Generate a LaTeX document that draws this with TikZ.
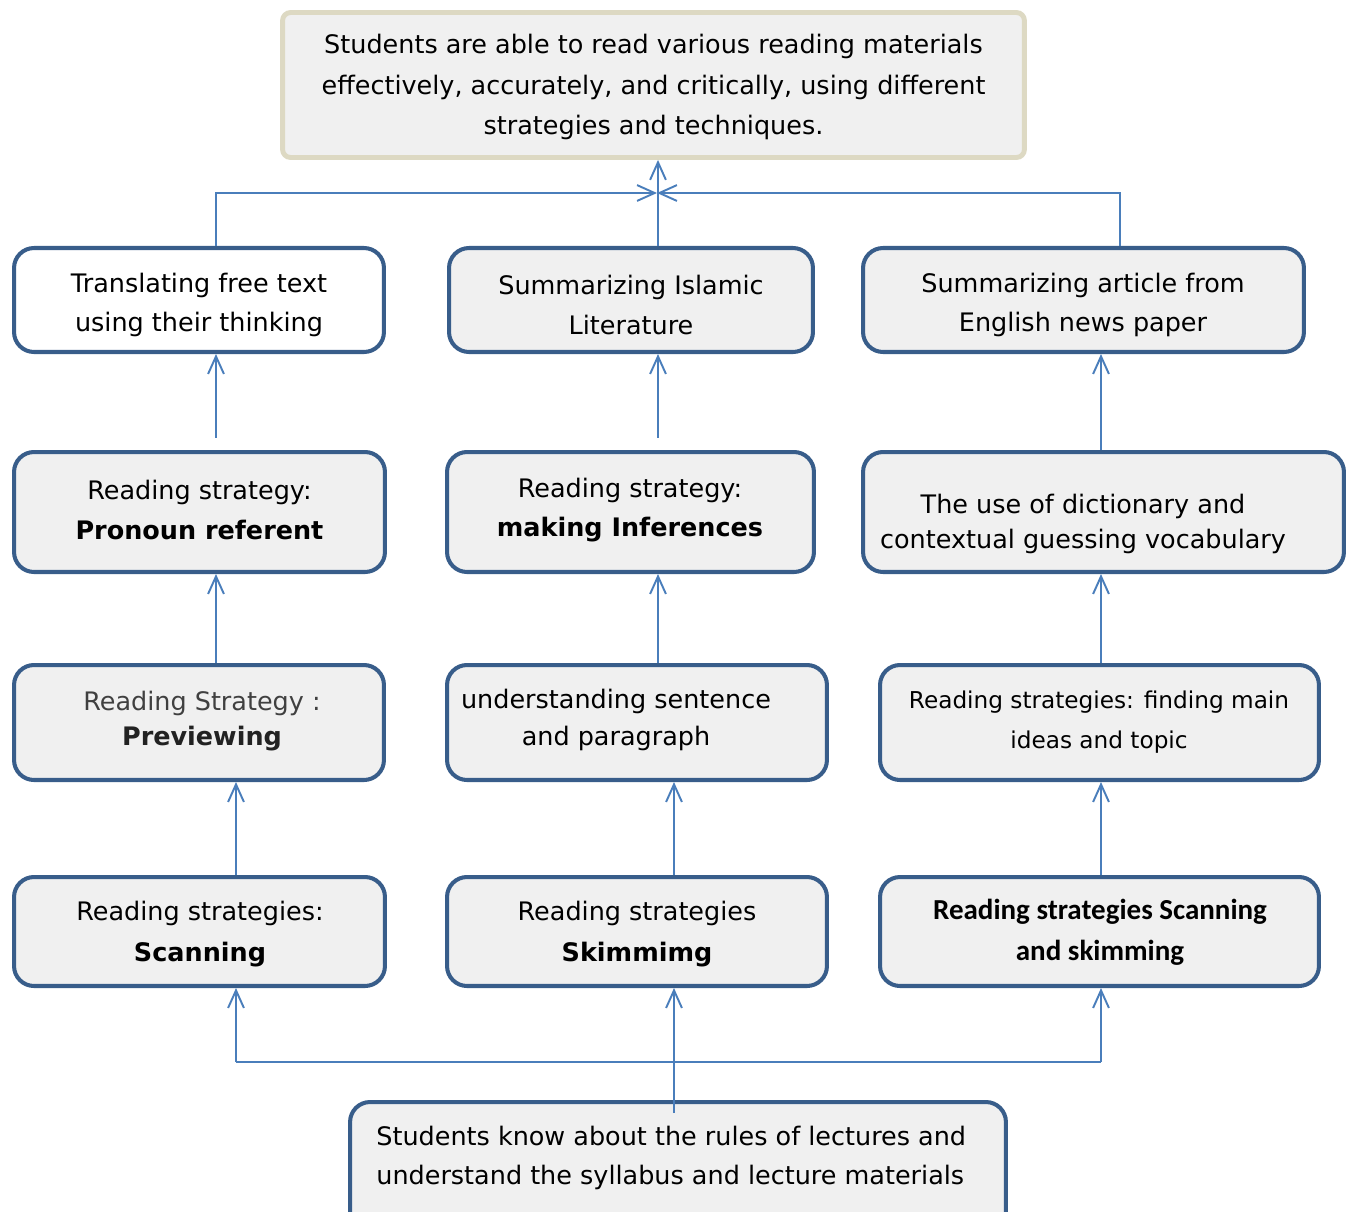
\documentclass[tikz,border=0pt]{standalone}
\usepackage{fontspec}
\setmainfont{DejaVu Sans}
\newfontfamily\calib{Carlito}
\usetikzlibrary{arrows.meta}
\definecolor{boxblue}{HTML}{385D8A}
\definecolor{lineblue}{HTML}{4A7EBB}
\definecolor{boxfill}{HTML}{F0F0F0}
\definecolor{topborder}{HTML}{DDD9C3}
\begin{document}
\begin{tikzpicture}[x=0.02cm,y=-0.02cm,
  bbox/.style={draw=boxblue, line width=2.3pt, rounded corners=0.4cm, fill=boxfill, inner sep=0pt},
  wbox/.style={bbox, fill=white},
  topbox/.style={draw=topborder, line width=2.8pt, rounded corners=0.16cm, fill=boxfill, inner sep=0pt},
  txt/.style={align=center, inner sep=0pt, font=\fontsize{14.5}{22.3}\selectfont},
  txtb/.style={align=center, inner sep=0pt, font=\fontsize{14.5}{23.2}\selectfont},
  conn/.style={draw=lineblue, line width=1.1pt},
  arr/.style={conn, -{Straight Barb[length=10pt,width=9pt]}}]
\clip (0,0) rectangle (1353,1211);
% boxes
\node[topbox, minimum width=14.84cm, minimum height=2.9cm] (T) at (653.5,85) {};
\node[wbox, minimum width=7.4cm, minimum height=2.08cm] (A1) at (199,300) {};
\node[bbox, minimum width=7.28cm, minimum height=2.08cm] (B1) at (631,300) {};
\node[bbox, minimum width=8.82cm, minimum height=2.08cm] (C1) at (1083.5,300) {};
\node[bbox, minimum width=7.42cm, minimum height=2.4cm] (A2) at (199.5,512) {};
\node[bbox, minimum width=7.34cm, minimum height=2.4cm] (B2) at (630.5,512) {};
\node[bbox, minimum width=9.62cm, minimum height=2.4cm] (C2) at (1103.5,512) {};
\node[bbox, minimum width=7.4cm, minimum height=2.3cm] (A3) at (199,722.5) {};
\node[bbox, minimum width=7.6cm, minimum height=2.3cm] (B3) at (637,722.5) {};
\node[bbox, minimum width=8.78cm, minimum height=2.3cm] (C3) at (1099.5,722.5) {};
\node[bbox, minimum width=7.42cm, minimum height=2.18cm] (A4) at (199.5,931.5) {};
\node[bbox, minimum width=7.6cm, minimum height=2.18cm] (B4) at (637,931.5) {};
\node[bbox, minimum width=8.78cm, minimum height=2.18cm] (C4) at (1099.5,931.5) {};
\node[bbox, minimum width=13.12cm, minimum height=2.6cm] (Bot) at (678,1167) {};
% texts
\node[txt, font=\fontsize{14.5}{23}\selectfont] (Tt) at (653.5,87) {Students are able to read various reading materials\\effectively, accurately, and critically, using different\\strategies and techniques.};
\node[txt] (A1t) at (199,305) {Translating free text\\using their thinking};
\node[txt] (B1t) at (631,305) {Summarizing Islamic\\Literature};
\node[txt] (C1t) at (1083,305) {Summarizing article from\\English news paper};
\node[txt] (A2t) at (199.5,510) {Reading strategy:\\\textbf{Pronoun referent}};
\node[txt] (B2t) at (630,510) {Reading strategy:\\\textbf{making Inferences}};
\node[txt, font=\fontsize{14.5}{20}\selectfont] (C2t) at (1083,524) {The use of dictionary and\\contextual guessing vocabulary};
\node[txt, font=\fontsize{14.5}{20}\selectfont] (A3t) at (202,721) {\textcolor[HTML]{404040}{Reading Strategy :}\\\textcolor[HTML]{222222}{\textbf{Previewing}}};
\node[txt, font=\fontsize{14.5}{21}\selectfont] (B3t) at (616,720) {understanding sentence\\and paragraph};
\node[txt, font=\fontsize{13.2}{23.2}\selectfont] (C3t) at (1099,722) {Reading strategies: finding main\\ideas and topic};
\node[txtb] (A4t) at (200,934) {Reading strategies:\\\textbf{Scanning}};
\node[txtb] (B4t) at (637,934) {Reading strategies\\\textbf{Skimmimg}};
\node[txtb, font=\calib\bfseries\fontsize{16.5}{23.2}\selectfont] (C4t) at (1100,932) {Reading strategies Scanning\\and skimming};
\node[txt, align=left, anchor=west, font=\fontsize{14.5}{22.7}\selectfont] (Bott) at (376,1158) {Students know about the rules of lectures and\\understand the syllabus and lecture materials};
% column coordinates
\coordinate (xa) at (216,0);
\coordinate (xa4) at (236,0);
\coordinate (xb) at (658,0);
\coordinate (xb4) at (674,0);
\coordinate (xc) at (1101,0);
\coordinate (xct) at (1120,0);
\coordinate (jn) at (657,193);
\coordinate (bl) at (236,1062);
\coordinate (br) at (1101,1062);
% top connectors
\draw[arr] (A1.north -| xa) |- (jn);
\draw[arr] (C1.north -| xct) |- (jn);
\draw[arr] (B1.north -| xb) -- (T.south -| xb);
% row connectors
\draw[arr, shorten <=7pt] (A2.north -| xa) -- (A1.south -| xa);
\draw[arr, shorten <=7pt] (B2.north -| xb) -- (B1.south -| xb);
\draw[arr] (C2.north -| xc) -- (C1.south -| xc);
\draw[arr] (A3.north -| xa) -- (A2.south -| xa);
\draw[arr] (B3.north -| xb) -- (B2.south -| xb);
\draw[arr] (C3.north -| xc) -- (C2.south -| xc);
\draw[arr] (A4.north -| xa4) -- (A3.south -| xa4);
\draw[arr] (B4.north -| xb4) -- (B3.south -| xb4);
\draw[arr] (C4.north -| xc) -- (C3.south -| xc);
% bottom connectors
\draw[conn] (bl) -- (br);
\draw[arr] (bl) -- (A4.south -| bl);
\draw[arr] (br) -- (C4.south -| br);
\draw[arr, shorten <=-7.5pt] (Bot.north -| xb4) -- (B4.south -| xb4);
\end{tikzpicture}
\end{document}
